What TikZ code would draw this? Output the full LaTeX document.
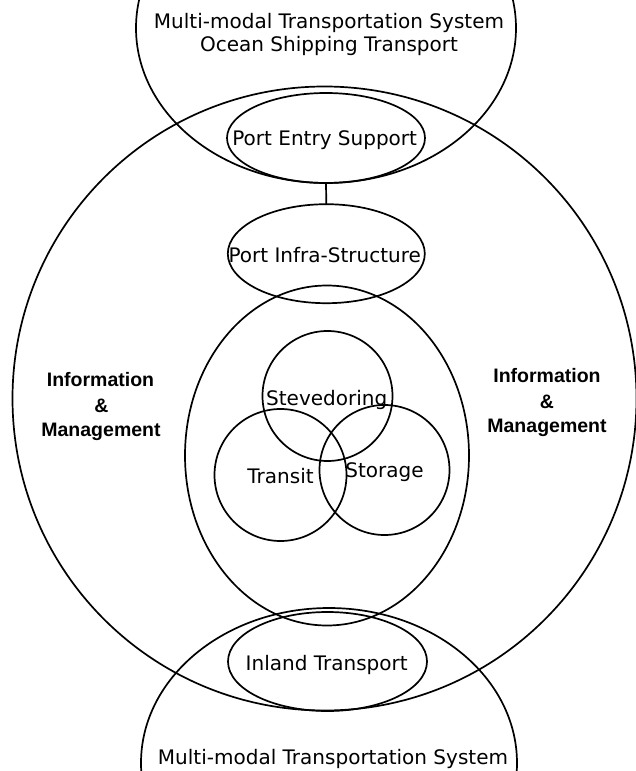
\documentclass[tikz,border=0pt]{standalone}
\usepackage{fontspec}
\setmainfont{DejaVu Sans}
\newfontfamily\labelbold{Liberation Sans}
\usetikzlibrary{shapes.geometric}
\begin{document}
\begin{tikzpicture}[x=1pt,y=-1pt,
  outline/.style={draw, line width=1.7pt},
  ring/.style={outline, shape=ellipse, inner sep=0pt, outer sep=0pt},
  txt/.style={font=\fontsize{20}{24}\selectfont, anchor=base, inner sep=0pt},
  boldtxt/.style={font=\labelbold\bfseries\fontsize{19.5}{24}\selectfont, anchor=base, inner sep=0pt}]
\useasboundingbox (0,0) rectangle (636,771);
\clip (0,0) rectangle (636,771);

% outer systems and the port domain
\node[ring, minimum size=624pt] (domain) at (324.5,398.5) {};
\node[ring, minimum width=380pt, minimum height=310pt] (ocean) at (326,28) {};
\node[ring, minimum width=376pt, minimum height=310pt] (land) at (329,763) {};

% port components
\node[ring, minimum width=198pt, minimum height=90pt] (entry) at (326,138) {};
\node[ring, minimum width=197pt, minimum height=99pt] (infra) at (326.3,253.7) {};
\node[ring, minimum width=284pt, minimum height=340pt] (core) at (327,455.5) {};
\node[ring, minimum width=199pt, minimum height=99pt] (inland) at (327.5,661.5) {};

% terminal operations
\node[ring, minimum size=130pt] (stev) at (327.5,396) {};
\node[ring, minimum size=132pt] (transit) at (280.5,475) {};
\node[ring, minimum size=130pt] (storage) at (384.5,470) {};

\draw[outline] (entry.south) -- (infra.north);

% labels
\node[txt] (oceanA) at (329,28.3) {Multi-modal Transportation System};
\node[txt] (oceanB) at (329,51.7) {Ocean Shipping Transport};
\node[txt] (entryT) at (324.7,145) {Port Entry Support};
\node[txt] (infraT) at (324.7,262.7) {Port Infra-Structure};
\node[txt] (stevT) at (326.7,405) {Stevedoring};
\node[txt] (transitT) at (280.5,483.3) {Transit};
\node[txt] (storageT) at (384.5,477.3) {Storage};
\node[txt] (inlandT) at (326.7,670) {Inland Transport};
\node[txt] (landT) at (333,764) {Multi-modal Transportation System};

\node[boldtxt] (infoL) at (100.5,386) {Information};
\node[boldtxt] (ampL) at (101.5,412) {\&};
\node[boldtxt] (mgmtL) at (101,436) {Management};
\node[boldtxt] (infoR) at (547,382) {Information};
\node[boldtxt] (ampR) at (547,408) {\&};
\node[boldtxt] (mgmtR) at (547,432) {Management};
\end{tikzpicture}
\end{document}
